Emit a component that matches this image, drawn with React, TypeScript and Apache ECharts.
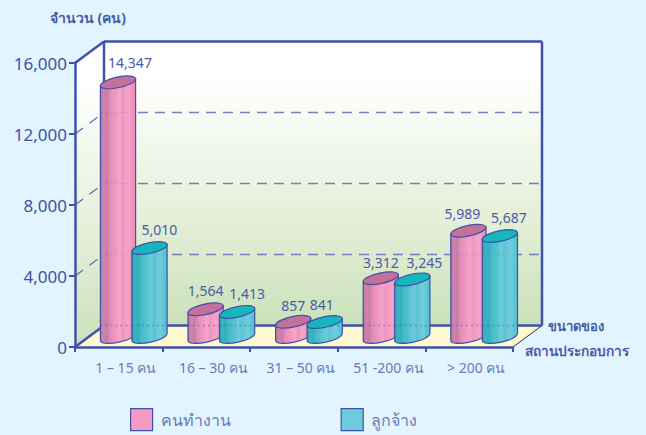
import React, { useEffect, useRef } from "react";
import * as echarts from "echarts";

const categories = ["1 – 15 คน", "16 – 30 คน", "31 – 50 คน", "51 -200 คน", "> 200 คน"];
const employeesName = "คนทำงาน";
const workersName = "ลูกจ้าง";
const employees = [14347, 1564, 857, 3312, 5989];
const workers = [5010, 1413, 841, 3245, 5687];
const gridTicks = [4000, 8000, 12000];
const yTitle = "จำนวน (คน)";
const xTitleTop = "ขนาดของ";
const xTitleBottom = "สถานประกอบการ";

// label nudges relative to each bar top (dx, dy)
const employeeLabelNudge = [[12, -20], [0, -19], [0, -16], [0, -16], [-6, -17]];
const workerLabelNudge = [[10, -19], [10, -18], [-3, -18], [12, -17], [9, -19]];

const FONT = '"Noto Sans", "DejaVu Sans", sans-serif';
const INK = "#3F51A8";
const TEXT = "#4A5BAA";
const SOFT = "#6A7ABC";
const DX = 29;
const DY = -21.5;
const BAR_RX = 17.6;
const BAR_RY = 5.4;
const TILT_DY = 3.4;
const BAR_DEPTH = -10;
const KAPPA = 0.5523;

const vGrad = (a: any[]) => new echarts.graphic.LinearGradient(0, 0, 0, 1, a.map(([offset, color]) => ({ offset, color })));
const hGrad = (a: string[]) =>
  new echarts.graphic.LinearGradient(0, 0, 1, 0, a.map((color, i) => ({ offset: i / (a.length - 1), color })));

const pinkStripes = ["#B9789F", "#D283AC", "#C77CA6", "#E08DB6", "#EE93BE", "#F19AC2", "#F5A5C9", "#EE94BE", "#F4A0C6", "#F2A3C8", "#F090BC", "#EE8FBB"];
const blueStripes = ["#2AA9B5", "#3AB4BE", "#33B0BC", "#47BCC8", "#4FC0CB", "#5CC5D3", "#6ECBDA", "#58C3D1", "#6ACADA", "#6FCDDC", "#5DC5D4", "#53C0CE"];

// A point of the sheared disc: (u, v) in units of the half-axes, around (cx, cy).
const disc = (cx: number, cy: number, u: number, v: number) =>
  `${cx + u * BAR_RX} ${cy - u * TILT_DY + v * BAR_RY}`;
// Half of the disc's outline from the left edge to the right edge; side = 1 is the near (lower) half.
const halfDisc = (cx: number, cy: number, side: number) =>
  `C${disc(cx, cy, -1, side * KAPPA)} ${disc(cx, cy, -KAPPA, side)} ${disc(cx, cy, 0, side)} ` +
  `C${disc(cx, cy, KAPPA, side)} ${disc(cx, cy, 1, side * KAPPA)} ${disc(cx, cy, 1, 0)}`;
const halfDiscBack = (cx: number, cy: number, side: number) =>
  `C${disc(cx, cy, 1, side * KAPPA)} ${disc(cx, cy, KAPPA, side)} ${disc(cx, cy, 0, side)} ` +
  `C${disc(cx, cy, -KAPPA, side)} ${disc(cx, cy, -1, side * KAPPA)} ${disc(cx, cy, -1, 0)}`;

function frameRender(params: any, api: any) {
  const cs = params.coordSys;
  const L = cs.x, R = cs.x + cs.width, T = cs.y, B = cs.y + cs.height;
  const line = (x1: number, y1: number, x2: number, y2: number, stroke: string, lineWidth: number, lineDash?: number[]) => ({
    type: "line",
    shape: { x1, y1, x2, y2 },
    style: { stroke, lineWidth, lineDash, fill: null },
    silent: true,
  });
  const wall = [[0, "#FFFFFF"], [0.12, "#FFFFFF"], [0.6, "#E6F0D9"], [1, "#CBE1BA"]];
  const children: any[] = [
    { type: "polygon", shape: { points: [[L, T], [L + DX, T + DY], [L + DX, B + DY], [L, B]] }, style: { fill: vGrad(wall) } },
    { type: "rect", shape: { x: L + DX, y: T + DY, width: R - L, height: B - T }, style: { fill: vGrad(wall) } },
    { type: "polygon", shape: { points: [[L, B], [L + DX, B + DY], [R + DX, B + DY], [R, B]] }, style: { fill: "#FDF8CF" } },
  ];
  gridTicks.forEach((v) => {
    const y = api.coord([0, v])[1];
    children.push(line(L, y, L + DX, y + DY, "#5E6BB0", 1.2, [10, 8]));
    children.push(line(L + DX, y + DY, R + DX, y + DY, "#7480BC", 1.4, [10, 7]));
  });
  children.push(
    line(L + DX, T + DY, R + DX, T + DY, INK, 2.5),
    line(L + DX, T + DY, L + DX, B + DY, INK, 2.5),
    line(R + DX, T + DY, R + DX, B + DY, INK, 2.5),
    line(L + DX, B + DY, R + DX, B + DY, INK, 2.5),
    line(L, T, L + DX, T + DY, INK, 2.5),
    line(L, B, L + DX, B + DY, INK, 2.5),
    line(R, B, R + DX, B + DY, "#2A2F55", 1),
  );
  return { type: "group", children };
}

const barRender = (slotOffset: number, stripes: string[], topFill: string, nudges: number[][]) => (params: any, api: any) => {
  const i = api.value(0);
  const v = api.value(1);
  const band = api.size([1, 0])[0];
  const center = api.coord([i, v]);
  const zero = api.coord([i, 0]);
  const x = center[0] - band / 2 + slotOffset;
  const yTop = center[1] + BAR_DEPTH;
  const yBot = zero[1] + BAR_DEPTH;
  const lx = x - BAR_RX, rxx = x + BAR_RX;
  const body = `M${disc(x, yTop, -1, 0)} L${disc(x, yBot, -1, 0)} ${halfDisc(x, yBot, 1)} L${disc(x, yTop, 1, 0)} Z`;
  const top = `M${disc(x, yTop, -1, 0)} ${halfDisc(x, yTop, 1)} ${halfDiscBack(x, yTop, -1)} Z`;
  const n = nudges[params.dataIndex];
  const seen: any[] = [];
  [0, ...gridTicks].forEach((t) => {
    if (t < v - 400) {
      const yy = api.coord([i, t])[1] + DY;
      seen.push({
        type: "line",
        shape: { x1: lx, y1: yy, x2: rxx, y2: yy },
        style: { stroke: INK, lineWidth: t === 0 ? 2 : 1.2, lineDash: [2, 3], opacity: t === 0 ? 0.3 : 0.18 },
      });
    }
  });
  return {
    type: "group",
    children: [
      { type: "path", shape: { pathData: body }, style: { fill: hGrad(stripes), stroke: INK, lineWidth: 1.2 } },
      ...seen,
      { type: "path", shape: { pathData: top }, style: { fill: topFill, stroke: INK, lineWidth: 1.2 } },
      {
        type: "text",
        style: {
          x: x + n[0], y: yTop + n[1],
          text: v.toLocaleString("en-US"),
          fill: TEXT, font: `14px ${FONT}`, textAlign: "center", textVerticalAlign: "middle",
        },
      },
    ],
  };
};

export default function App() {
  const ref = useRef<HTMLDivElement>(null);
  useEffect(() => {
    document.body.style.margin = "0";
    const chart = echarts.init(ref.current!, null, { renderer: "svg" });
    chart.setOption({
      animation: false,
      backgroundColor: "#E2F4FD",
      textStyle: { fontFamily: FONT },
      grid: { left: 75, top: 63, width: 438, height: 284, containLabel: false },
      xAxis: {
        type: "category", data: categories, z: 3,
        axisLine: { lineStyle: { color: INK, width: 2.5 } },
        axisTick: { show: true, length: 5, lineStyle: { color: INK, width: 2 } },
        axisLabel: { color: SOFT, fontSize: 14, margin: 13, fontFamily: FONT, interval: 0, padding: [0, 0, 0, 14] },
        splitLine: { show: false },
      },
      yAxis: {
        type: "value", min: 0, max: 16000, interval: 4000, z: 3,
        name: yTitle, nameLocation: "end", nameGap: 39,
        nameTextStyle: { color: TEXT, fontSize: 14, fontFamily: FONT, fontWeight: "bold", align: "center", padding: [0, 0, 0, 26] },
        axisLine: { show: true, lineStyle: { color: INK, width: 2.5 } },
        axisTick: { show: true, length: 6, lineStyle: { color: INK, width: 2 } },
        axisLabel: { color: INK, fontSize: 17, margin: 8, fontFamily: FONT, padding: [2, 0, 0, 0], formatter: (v: number) => v.toLocaleString("en-US") },
        splitLine: { show: false },
      },
      legend: {
        left: 125, top: 403, itemWidth: 22, itemHeight: 22, itemGap: 110, icon: "rect",
        data: [
          { name: employeesName, itemStyle: { color: "#F59AC2", borderColor: INK, borderWidth: 1.2 } },
          { name: workersName, itemStyle: { color: "#6ECBDE", borderColor: INK, borderWidth: 1.2 } },
        ],
        textStyle: { color: SOFT, fontSize: 16, fontFamily: FONT, padding: [2, 0, 0, 3] },
        selectedMode: false,
      },
      graphic: [
        { type: "text", x: 548, y: 326, style: { text: xTitleTop, fill: TEXT, font: `bold 13px ${FONT}`, textVerticalAlign: "middle" } },
        { type: "text", x: 525, y: 350, style: { text: xTitleBottom, fill: TEXT, font: `bold 13.6px ${FONT}`, textVerticalAlign: "middle" } },
      ],
      series: [
        { type: "custom", name: "frame", z: 1, silent: true, clip: false, data: [[0, 0]], encode: { x: 0, y: 1 }, renderItem: frameRender },
        {
          type: "custom", name: employeesName, z: 4, clip: false, silent: true,
          itemStyle: { color: "#F59AC2" },
          data: employees.map((v, i) => [i, v]), encode: { x: 0, y: 1 },
          renderItem: barRender(43, pinkStripes, "#C4709A", employeeLabelNudge),
        },
        {
          type: "custom", name: workersName, z: 5, clip: false, silent: true,
          itemStyle: { color: "#6ECBDE" },
          data: workers.map((v, i) => [i, v]), encode: { x: 0, y: 1 },
          renderItem: barRender(74.5, blueStripes, "#17B5BC", workerLabelNudge),
        },
      ],
    });
    return () => chart.dispose();
  }, []);
  return <div ref={ref} style={{ position: "absolute", left: 0, top: 0, width: 646, height: 435 }} />;
}
